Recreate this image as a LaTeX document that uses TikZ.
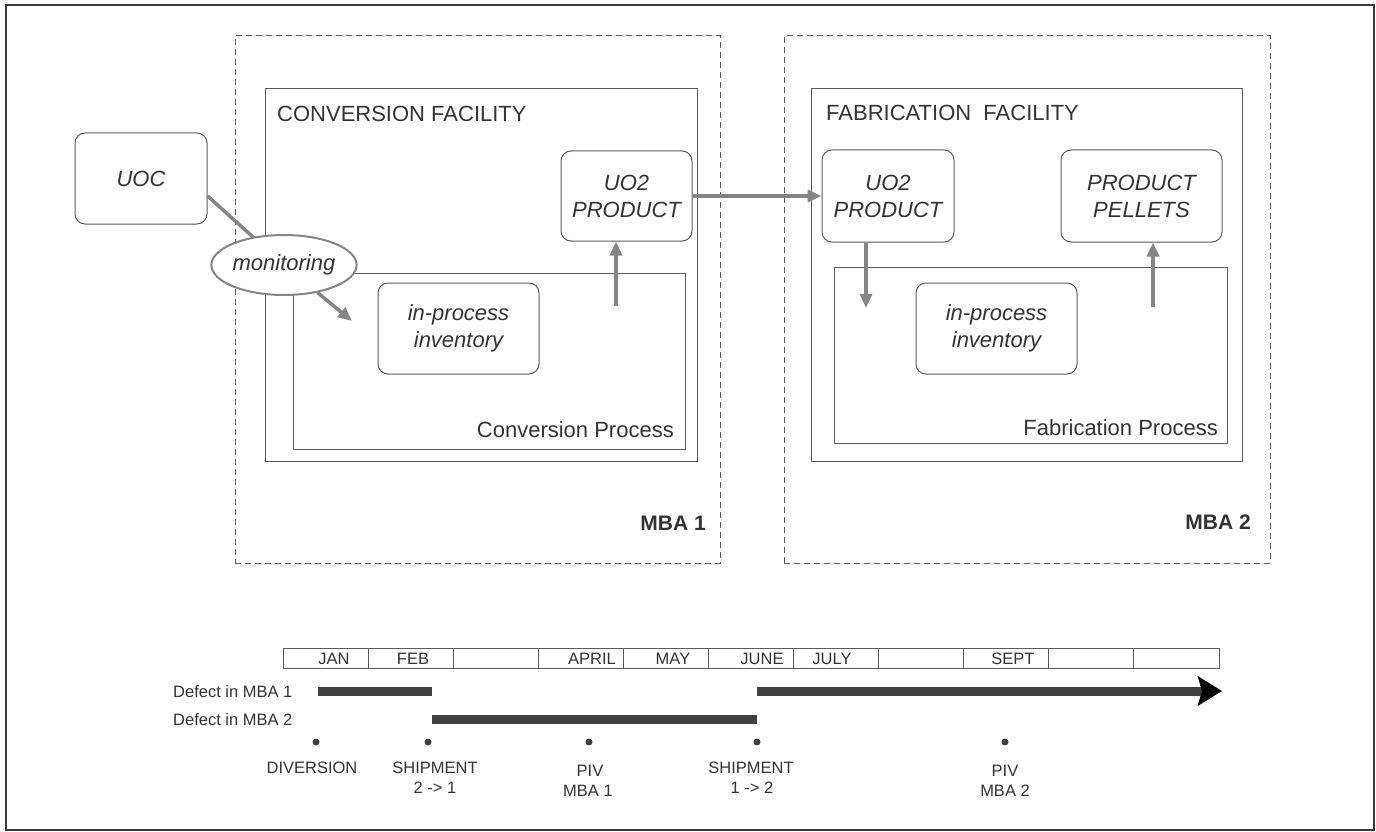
\documentclass[tikz,border=0pt]{standalone}
\usepackage{fontspec}
\setmainfont{Liberation Sans}
\usetikzlibrary{arrows.meta,shapes.geometric,calc}
\definecolor{textc}{HTML}{333333}
\definecolor{boxc}{HTML}{5A5A5A}
\definecolor{arrowc}{HTML}{858585}
\definecolor{barc}{HTML}{404040}
\definecolor{framec}{HTML}{3A3A3A}
\begin{document}
\begin{tikzpicture}[x=1pt,y=-1pt,
  every node/.style={text=textc, inner sep=0pt},
  dbox/.style={draw=boxc, line width=1pt, dash pattern=on 6pt off 4pt},
  facbox/.style={draw=boxc, line width=0.9pt},
  rbox/.style={draw=boxc, line width=1pt, rounded corners=10pt, align=center, font=\fontsize{22}{27}\selectfont\itshape},
  biglabel/.style={font=\fontsize{22}{26}\selectfont},
  mbalabel/.style={font=\fontsize{21}{25}\selectfont\bfseries, anchor=base east},
  garrow/.style={draw=arrowc, line width=3.5pt, -{Triangle[length=14pt,width=12pt]}},
  gline/.style={draw=arrowc, line width=3.5pt},
  cell/.style={draw=boxc, line width=0.9pt, minimum width=85.09pt, minimum height=20pt},
  tl/.style={font=\fontsize{16.5}{20}\selectfont, anchor=base},
  bar/.style={draw=barc, line width=9pt},
  tdot/.style={circle, fill=barc, minimum size=7pt}
]
\useasboundingbox (0,0) rectangle (1376,832);
\draw[line width=2pt, color=framec] (6,5) rectangle (1374,830);

% MBA areas
\node[dbox, minimum width=485pt, minimum height=527pt] (mba1) at (477.5,299.5) {};
\node[dbox, minimum width=486pt, minimum height=527pt] (mba2) at (1027,299.5) {};
\node[mbalabel] (mba1l) at (706,530) {MBA 1};
\node[mbalabel] (mba2l) at (1251,529) {MBA 2};

% Conversion facility
\node[facbox, minimum width=432pt, minimum height=373pt] (cf) at (481,274.5) {};
\node[biglabel, anchor=base west] (cfl) at (277,122) {CONVERSION FACILITY};
\node[facbox, minimum width=392pt, minimum height=176pt] (cp) at (489,361) {};
\node[biglabel, anchor=base east] (cpl) at (674,437) {Conversion Process};
\node[rbox, minimum width=161pt, minimum height=91pt] (cinv) at (458.5,328.5) {in-process\\inventory};
\node[rbox, minimum width=131pt, minimum height=90pt] (cuo2) at (626.5,196) {UO2\\PRODUCT};

% Fabrication facility
\node[facbox, minimum width=431pt, minimum height=373pt] (ff) at (1026.5,274.5) {};
\node[biglabel, anchor=base west] (ffl) at (826,121) {FABRICATION\ \ FACILITY};
\node[facbox, minimum width=393pt, minimum height=176pt] (fp) at (1030.5,355) {};
\node[biglabel, anchor=base east] (fpl) at (1218,435) {Fabrication Process};
\node[rbox, minimum width=161pt, minimum height=91pt] (finv) at (996.5,328.5) {in-process\\inventory};
\node[rbox, minimum width=132pt, minimum height=92pt] (fuo2) at (888,196) {UO2\\PRODUCT};
\node[rbox, minimum width=161pt, minimum height=92pt] (pel) at (1141.5,196) {PRODUCT\\PELLETS};

% UOC and monitoring
\node[rbox, minimum width=132pt, minimum height=91pt] (uoc) at (141,178.5) {UOC};
\draw[gline] ($(uoc.east)+(0,17.5)$) -- (284,265);
\node[ellipse, draw=arrowc, line width=2pt, fill=white, minimum width=140pt, minimum height=60pt,
      font=\fontsize{22}{27}\selectfont\itshape] (mon) at (284,265) {monitoring};
\coordinate (mt) at (352,321);
\draw[garrow] (mon) -- (mt);

% Flow arrows
\coordinate (ca) at (616,306);
\draw[garrow] (ca) -- (ca |- cuo2.south);
\draw[garrow] (cuo2) -- (fuo2);
\coordinate (fd) at (866,308);
\draw[garrow] (fd |- fuo2.south) -- (fd);
\coordinate (pu) at (1153,307);
\draw[garrow] (pu) -- (pu |- pel.south);

% Timeline
\foreach \i in {0,...,10} {
  \node[cell] (c\i) at ({283+85.09*(\i+0.5)},658) {};
}
\node[tl] (mjan) at (334,664) {JAN};
\node[tl] (mfeb) at (413,664) {FEB};
\node[tl] (mapr) at (592,664) {APRIL};
\node[tl] (mmay) at (673,664) {MAY};
\node[tl] (mjun) at (762,664) {JUNE};
\node[tl] (mjul) at (832,664) {JULY};
\node[tl] (msep) at (1013,664) {SEPT};

\node[font=\fontsize{16.5}{20}\selectfont, anchor=base west] (d1l) at (173,697) {Defect in MBA 1};
\node[font=\fontsize{16.5}{20}\selectfont, anchor=base west] (d2l) at (173,725) {Defect in MBA 2};

\coordinate (b1s) at (318,691);
\coordinate (b1e) at (432,691);
\coordinate (b2s) at (432,719);
\coordinate (b2e) at (757,719);
\coordinate (b3s) at (757,691);
\coordinate (b3e) at (1222,691);
\draw[bar] (b1s) -- (b1e);
\draw[bar] (b2s) -- (b2e);
\draw[bar, -{Stealth[length=24pt,width=29pt,inset=4pt,color=black]}] (b3s) -- (b3e);

\node[tdot] (e1) at (316,742) {};
\node[tdot] (e2) at (428,742) {};
\node[tdot] (e3) at (589,742) {};
\node[tdot] (e4) at (757,742) {};
\node[tdot] (e5) at (1005,742) {};

\node[tl] (t1) at (312,773) {DIVERSION};
\node[tl] (t2a) at (435,773) {SHIPMENT};
\node[tl] (t2b) at (435,793) {2 -> 1};
\node[tl] (t3a) at (590,776) {PIV};
\node[tl] (t3b) at (588,796) {MBA 1};
\node[tl] (t4a) at (751,773) {SHIPMENT};
\node[tl] (t4b) at (752,793) {1 -> 2};
\node[tl] (t5a) at (1005,776) {PIV};
\node[tl] (t5b) at (1005,796) {MBA 2};
\end{tikzpicture}
\end{document}
